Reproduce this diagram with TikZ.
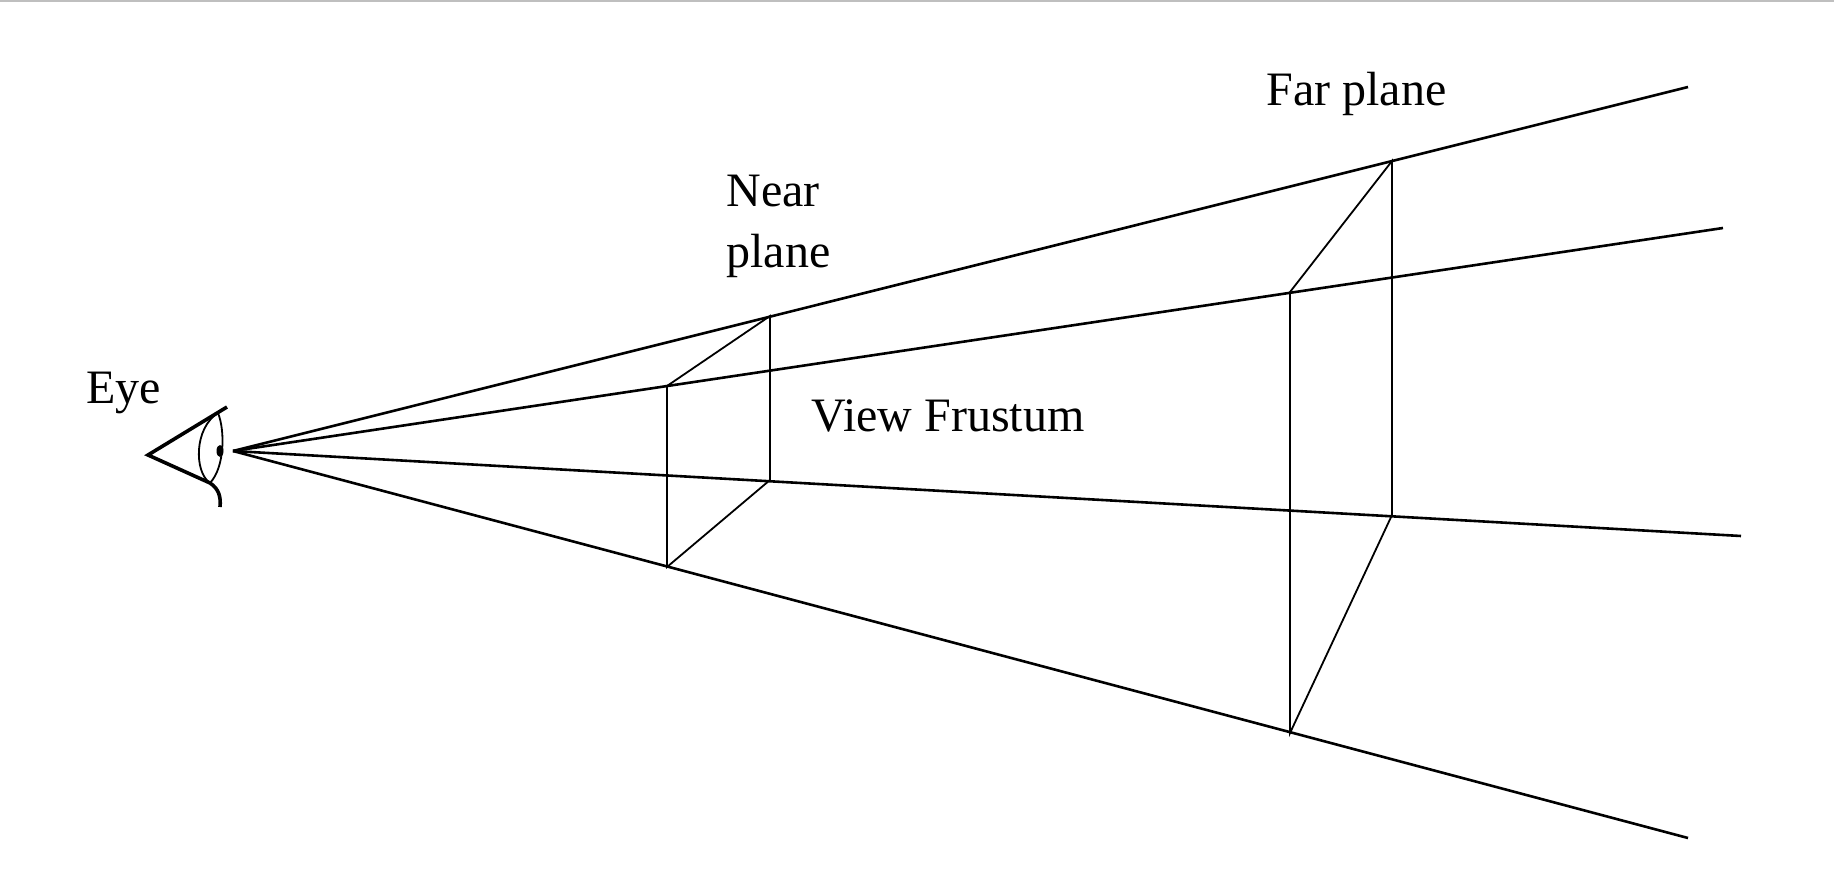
\documentclass[tikz,border=0pt]{standalone}
\usepackage{fontspec}
\setmainfont{Liberation Serif}
\tikzset{every picture/.style={line width=3pt},
  ray/.style={line width=2.6pt},
  edge/.style={line width=1.8pt},
  lbl/.style={inner sep=0pt,font=\fontsize{48}{56}\selectfont}}
\begin{document}
\begin{tikzpicture}[x=1pt,y=1pt,yscale=-1,xscale=1]
\useasboundingbox (0,0) rectangle (1834,896);
\draw [line width=2pt,black!25] (0,1) -- (1834,1);

% eye point and ray ends
\coordinate (eye) at (233,451);
\coordinate (e1) at (1688,87);
\coordinate (e2) at (1723,228);
\coordinate (e3) at (1741,536);
\coordinate (e4) at (1688,838);
% near plane
\coordinate (n1) at (770,316);
\coordinate (n2) at (667,386);
\coordinate (n3) at (770,480);
\coordinate (n4) at (667,567);
% far plane
\coordinate (f1) at (1392,161);
\coordinate (f2) at (1290,292);
\coordinate (f3) at (1392,515);
\coordinate (f4) at (1290,733);

% rays
\foreach \e in {e1,e2,e3,e4} \draw [ray] (eye) -- (\e);

% planes
\draw [edge] (n2) -- (n1) -- (n3) -- (n4) -- cycle;
\draw [edge] (f2) -- (f1) -- (f3) -- (f4) -- cycle;

% eye
\draw [line width=3.6pt,line join=miter] (227,407) -- (148,455) -- (210,483) .. controls (219,489) and (221,497) .. (220,507);
\draw [line width=1.8pt] (218,413) .. controls (194,428) and (194,472) .. (210,483);
\draw [line width=1.8pt] (218,413) .. controls (225,430) and (225,467) .. (210,483);
\fill (220,451) ellipse (3.5pt and 6pt);

% labels
\node [lbl,anchor=base west] (eyelbl) at (85,403) {Eye};
\node [lbl,anchor=base west] (nearlbl) at (725,207) {Near};
\node [lbl,anchor=base west] (planelbl) at (725,268) {plane};
\node [lbl,anchor=base west] (farlbl) at (1265,106) {Far plane};
\node [lbl,anchor=base west] (vflbl) at (810,431) {View Frustum};
\end{tikzpicture}
\end{document}
